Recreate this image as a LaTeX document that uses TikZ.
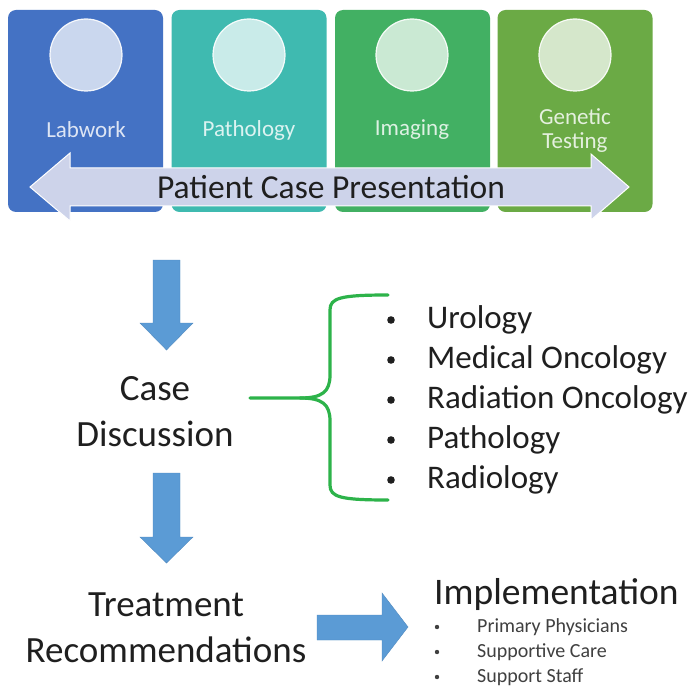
\documentclass[tikz,border=0pt]{standalone}
\usepackage{fontspec}
\setmainfont{Carlito}
\usetikzlibrary{calc}
\definecolor{cLab}{HTML}{4472C4}
\definecolor{cPath}{HTML}{3FBAB0}
\definecolor{cImg}{HTML}{42B063}
\definecolor{cGen}{HTML}{6BAA45}
\definecolor{cArrow}{HTML}{5B9BD5}
\definecolor{cBig}{HTML}{CDD3EA}
\definecolor{cBrace}{HTML}{2DB34A}
\definecolor{cText}{HTML}{1F1F1F}
\definecolor{cSub}{HTML}{404040}
\tikzset{
  tile/.style={rounded corners=8pt, inner sep=0pt, minimum width=155pt, minimum height=202pt},
  disc/.style={circle, draw=white, line width=1.2pt, fill=white, fill opacity=0.72, draw opacity=0.9, minimum size=72pt, inner sep=0pt},
  tilelabel/.style={font=\fontsize{23}{26}\selectfont, align=center, inner sep=0pt},
  bigtext/.style={font=\fontsize{37}{46}\selectfont, text=cText, align=center, inner sep=0pt},
  listtext/.style={font=\fontsize{33}{40}\selectfont, text=cText, anchor=west, inner sep=0pt},
  subtext/.style={font=\fontsize{20}{24}\selectfont, text=cSub, anchor=west, inner sep=0pt},
  blockarrow/.style={fill=cArrow, draw=cArrow!90!black, line width=0.4pt},
}
\begin{document}
\begin{tikzpicture}[x=1pt,y=-1pt]
\useasboundingbox (0,0) rectangle (696,687);
\fill[white] (0,0) rectangle (696,687);
% tiles
\node[tile, fill=cLab]  (t1) at (85.5,111) {};
\node[tile, fill=cPath] (t2) at (249,111) {};
\node[tile, fill=cImg]  (t3) at (412.5,111) {};
\node[tile, fill=cGen]  (t4) at (575,111) {};
\node[disc] (d1) at (86,55) {};
\node[disc] (d2) at (249,55) {};
\node[disc] (d3) at (412,55) {};
\node[disc] (d4) at (575,55) {};
\node[tilelabel, text=white!82!cLab]  (l1) at (86,130) {Labwork};
\node[tilelabel, text=white!82!cPath] (l2) at (249,130) {Pathology};
\node[tilelabel, text=white!82!cImg]  (l3) at (412,130) {Imaging};
\node[tilelabel, text=white!82!cGen]  (l4) at (575,131) {Genetic\\[-2pt]Testing};
% big double arrow
\fill[cBig, draw=white, line width=1pt]
  (30,187) -- (70,153) -- (70,168) -- (591,168) -- (591,154) -- (629,187)
  -- (591,220) -- (591,206) -- (70,206) -- (70,221) -- cycle;
\node[font=\fontsize{33.5}{38}\selectfont, text=cText, inner sep=0pt] (pcp) at (331,187) {Patient Case Presentation};
% down arrows
\path[blockarrow] (153,260) -- (180,260) -- (180,323) -- (193,323) -- (166.5,350) -- (140,323) -- (153,323) -- cycle;
\path[blockarrow] (153,473) -- (180,473) -- (180,537) -- (193,537) -- (166.5,563) -- (140,537) -- (153,537) -- cycle;
% texts
\node[bigtext] (cd) at (155,412) {Case\\Discussion};
\node[bigtext] (tr) at (166,628) {Treatment\\Recommendations};
% brace
\coordinate (bl) at (250,398);
\draw[cBrace, line width=3.2pt, line cap=round]
  (bl) -- (300,398) .. controls (322,398) and (330,392) .. (330,375)
  -- (330,310) .. controls (330,298) and (340,295) .. (388,295);
\draw[cBrace, line width=3.2pt, line cap=round]
  (300,398) .. controls (322,398) and (330,404) .. (330,421)
  -- (330,485) .. controls (330,497) and (340,500) .. (388,500);
% list
\foreach \y/\t [count=\i] in {320/Urology, 360/Medical Oncology, 400/Radiation Oncology, 440/Pathology, 480/Radiology}{
  \fill[cText] (391,\y) circle (3.8pt);
  \node[listtext] (li\i) at (427,\y) {\t};
}
% right arrow
\path[blockarrow] (317,615) -- (382,615) -- (382,593) -- (408,627) -- (382,661) -- (382,640) -- (317,640) -- cycle;
% implementation
\node[font=\fontsize{37.5}{40}\selectfont, text=cText, anchor=west, inner sep=0pt] (imp) at (434,594) {Implementation};
\foreach \y/\t [count=\i] in {627/Primary Physicians, 652/Supportive Care, 677/Support Staff}{
  \fill[cSub] (437,\y) circle (2.2pt);
  \node[subtext] (si\i) at (477,\y) {\t};
}
\end{tikzpicture}
\end{document}
